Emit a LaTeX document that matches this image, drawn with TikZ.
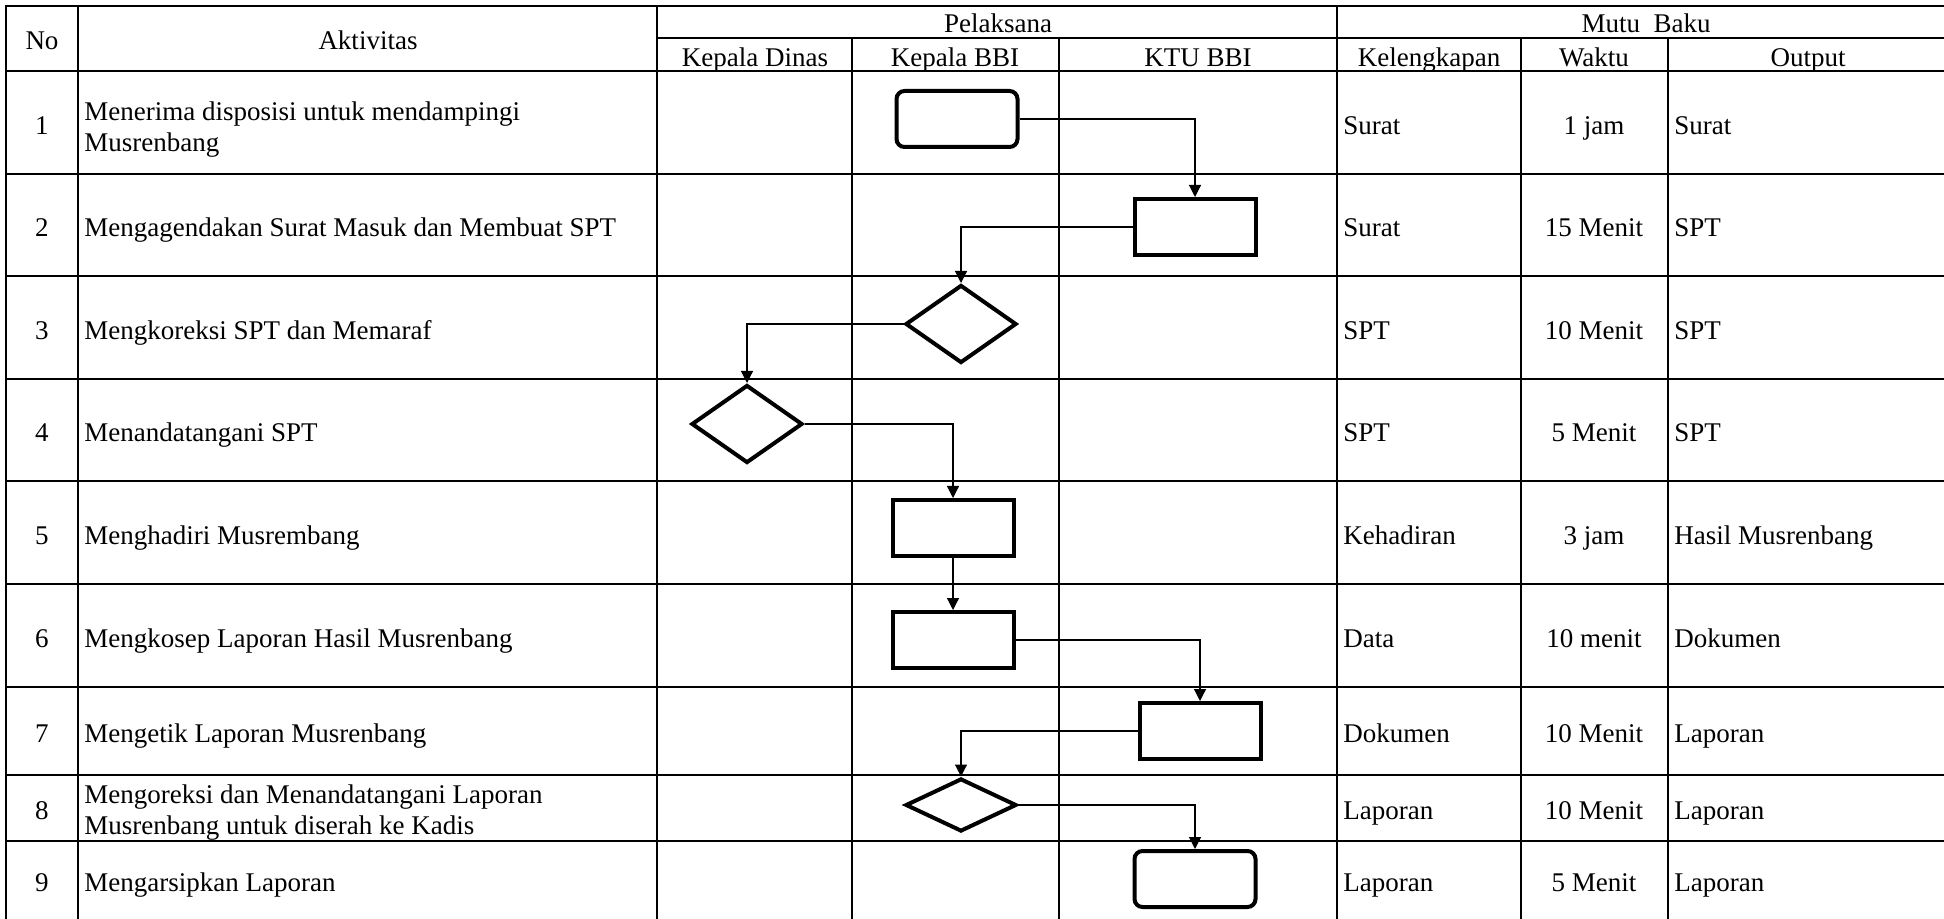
\documentclass[tikz,border=0pt]{standalone}
\usepackage{fontspec}
\setmainfont{Liberation Serif}
\usetikzlibrary{shapes.geometric,arrows.meta}
\begin{document}
\begin{tikzpicture}[x=0.5pt,y=-0.5pt,
 grid/.style={line width=1.4pt,line cap=rect},
 proc/.style={draw,line width=2pt,minimum width=60.5pt,minimum height=28pt,inner sep=0pt},
 term/.style={proc,rounded corners=4pt},
 dec/.style={draw,diamond,line width=2pt,inner sep=0pt,minimum width=55.5pt,minimum height=39pt},
 flow/.style={line width=0.6pt,-{Triangle[length=6pt,width=6pt]}},
 txtbase/.style={inner sep=0pt,yshift=-1.5pt,font=\fontsize{13.5}{15.5}\selectfont},
 txt/.style={txtbase,text height=9.5pt,text depth=3pt},
 lt/.style={txt,anchor=west},
 ml/.style={txtbase,anchor=west,align=left}]
\useasboundingbox (0,0) rectangle (1944,919);
\fill[white] (0,0) rectangle (1944,919);
\begin{scope}
\clip (0,0) rectangle (1944,919);
\draw[grid] (6,6) -- (1960,6);
\draw[grid] (657,38) -- (1960,38);
\foreach \y in {71,174,276,379,481,584,687,775,841} \draw[grid] (6,\y) -- (1960,\y);
\foreach \x in {6,78,657,1337} \draw[grid] (\x,6) -- (\x,935);
\foreach \x in {852,1059,1521,1668} \draw[grid] (\x,38) -- (\x,935);
\end{scope}
% headers
\node[txt] (hNo) at (42,40) {No};
\node[txt] (hAkt) at (368,40) {Aktivitas};
\node[txt] (hPel) at (998,23) {Pelaksana};
\node[txt] (hMutu) at (1646,23) {Mutu\ \ Baku};
\node[txt] (hKD) at (755,57) {Kepala Dinas};
\node[txt] (hKB) at (955,57) {Kepala BBI};
\node[txt] (hKTU) at (1198,57) {KTU BBI};
\node[txt] (hKel) at (1429,57) {Kelengkapan};
\node[txt] (hWak) at (1594,57) {Waktu};
\node[txt] (hOut) at (1808,57) {Output};
% rows
\foreach \i/\y/\kel/\wak/\out in {
 1/125/Surat/1 jam/Surat,
 2/227/Surat/15 Menit/SPT,
 3/330/SPT/10 Menit/SPT,
 4/432/SPT/5 Menit/SPT,
 5/535/Kehadiran/3 jam/Hasil Musrenbang,
 6/638/Data/10 menit/Dokumen,
 7/733/Dokumen/10 Menit/Laporan,
 8/810/Laporan/10 Menit/Laporan,
 9/882/Laporan/5 Menit/Laporan}{
 \node[txt] (no\i) at (42,\y) {\i};
 \node[lt] (kel\i) at (1343,\y) {\kel};
 \node[txt] (wak\i) at (1594,\y) {\wak};
 \node[lt] (out\i) at (1674,\y) {\out};
}
\node[ml] (act1) at (84,127) {Menerima disposisi untuk mendampingi\\Musrenbang};
\node[lt] (act2) at (84,227) {Mengagendakan Surat Masuk dan Membuat SPT};
\node[lt] (act3) at (84,330) {Mengkoreksi SPT dan Memaraf};
\node[lt] (act4) at (84,432) {Menandatangani SPT};
\node[lt] (act5) at (84,535) {Menghadiri Musrembang};
\node[lt] (act6) at (84,638) {Mengkosep Laporan Hasil Musrenbang};
\node[lt] (act7) at (84,733) {Mengetik Laporan Musrenbang};
\node[ml] (act8) at (84,810) {Mengoreksi dan Menandatangani Laporan\\Musrenbang untuk diserah ke Kadis};
\node[lt] (act9) at (84,882) {Mengarsipkan Laporan};
% flow shapes
\node[term] (n1) at (957,119) {};
\node[proc] (n2) at (1195,227) {};
\node[dec] (n3) at (961,324) {};
\node[dec] (n4) at (747,424) {};
\node[proc] (n5) at (953,528) {};
\node[proc] (n6) at (953,640) {};
\node[proc] (n7) at (1200,731) {};
\node[dec,minimum height=26.5pt] (n8) at (961,805) {};
\node[term] (n9) at (1195,879) {};
% connectors
\draw[flow] (n1.east) -| (n2.north);
\draw[flow] (n2.west) -| (n3.north);
\draw[flow] (n3.west) -| (n4.north);
\draw[flow] (n4.east) -| (n5.north);
\draw[flow] (n5.south) -- (n6.north);
\draw[flow] (n6.east) -| (n7.north);
\draw[flow] (n7.west) -| (n8.north);
\draw[flow] (n8.east) -| (n9.north);
\end{tikzpicture}
\end{document}
